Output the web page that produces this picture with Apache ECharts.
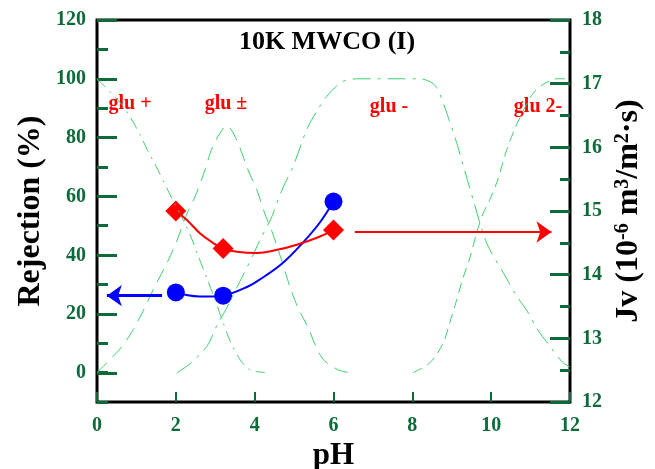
<!DOCTYPE html>
<html>
<head>
<meta charset="utf-8">
<script src="https://cdn.jsdelivr.net/npm/echarts@6/dist/echarts.min.js"></script>
<style>
  html, body { margin: 0; padding: 0; background: #fff; }
  #chart { width: 655px; height: 469px; }
</style>
</head>
<body>
<div id="chart"></div>
<script>
// measured points
const phMeasured = [2, 3.2, 6]
const rejection = [27.3, 26.2, 58.2]
const jv = [15.0, 14.41, 14.70]

// fitted curves
const rejFitPH = [2, 2.3, 2.6, 2.9, 3.2, 3.83, 4.2, 4.72, 5.22, 5.65, 6]
const rejFit = [27.3, 26.3, 25.9, 25.9, 26.2, 29.3, 32.3, 37.4, 44.2, 51, 58.2]
const jvFitPH = [2, 2.28, 2.61, 2.94, 3.2, 3.55, 4.06, 4.57, 5.07, 5.58, 6]
const jvFit = [15.0, 14.86, 14.65, 14.5, 14.41, 14.36, 14.34, 14.39, 14.47, 14.58, 14.70]

// glutamic acid species fractions (%) vs pH
const gluPlus = [[0, 100], [0.58, 92], [0.84, 87], [1.09, 81], [1.27, 76], [1.47, 71], [1.8, 62], [2.03, 56], [2.18, 52], [2.36, 47], [2.56, 40], [2.82, 31], [2.99, 25], [3.2, 17], [3.37, 11], [3.63, 4.4], [3.88, 1], [4.26, 0]]
const gluZw = [[0, 0], [0.58, 8], [0.89, 14], [1.17, 21], [1.42, 28], [1.8, 38], [2.03, 45], [2.28, 54], [2.49, 60], [2.74, 69], [2.94, 77], [3.3, 84], [3.55, 79], [3.83, 69], [4.06, 62], [4.26, 54], [4.44, 48], [4.69, 38], [4.9, 29], [5.1, 22], [5.33, 16], [5.71, 5], [6.11, 1], [6.4, 0]]
const gluMinus = [[2.03, 0], [2.36, 3], [2.79, 9], [3.04, 16], [3.25, 21], [3.7, 33], [3.96, 40], [4.13, 45], [4.4, 52], [4.72, 63], [4.97, 70], [5.33, 83], [5.58, 89], [5.83, 94], [6.22, 99], [6.67, 100], [7.69, 100], [8.19, 100], [8.45, 99], [8.62, 97], [8.83, 90], [9.13, 78], [9.28, 71], [9.54, 59], [9.89, 44], [10.35, 33], [10.65, 26], [10.91, 21], [11.16, 15], [11.49, 9], [11.82, 3.4], [12, 2]]
const glu2Minus = [[8.02, 0], [8.45, 3.4], [8.78, 10], [8.95, 17], [9.13, 25], [9.28, 32], [9.46, 39], [9.64, 48], [9.79, 54], [9.97, 59], [10.15, 65], [10.4, 76], [10.6, 83], [10.81, 89], [11.06, 95], [11.31, 98], [11.67, 100], [12, 100]]

// arrows: [from, to]
const blueArrow = [[1.65, 26.2], [0.25, 26.2]]
const redArrow = [[6.54, 14.67], [11.53, 14.67]]

const GREEN = '#0d6b3a'
const SERIF = 'Liberation Serif'
const lblStyle = { color: GREEN, fontFamily: SERIF, fontWeight: 'bold', fontSize: 20 }
const nameStyle = { color: '#000', fontFamily: SERIF, fontWeight: 'bold', fontSize: 32 }

const speciesLine = (data, dash) => ({
    type: 'line',
    xAxisIndex: 0,
    yAxisIndex: 0,
    data: data,
    showSymbol: false,
    smooth: 0.3,
    silent: true,
    lineStyle: { color: '#3fcf6e', width: 1, type: dash }
})

const arrowSeries = (pts, color, yIdx, w) => ({
    type: 'line',
    xAxisIndex: 0,
    yAxisIndex: yIdx,
    data: [],
    markLine: {
        silent: true,
        symbol: ['none', 'arrow'],
        symbolSize: [16, 15],
        label: { show: false },
        lineStyle: { color: color, width: w, type: 'solid' },
        data: [[{ coord: pts[0] }, { coord: pts[1] }]]
    }
})

const chart = echarts.init(document.getElementById('chart'))
chart.setOption({
    animation: false,
    backgroundColor: '#fff',
    grid: [
        { left: 97, right: 85, top: 20, bottom: 67, outerBoundsMode: 'none', containLabel: false, show: true, borderColor: '#000', borderWidth: 3, backgroundColor: 'transparent' },
        { left: 97, right: 85, top: 20, bottom: 96, outerBoundsMode: 'none', containLabel: false }
    ],
    xAxis: [
        {
            gridIndex: 0, type: 'value', min: 0, max: 12, interval: 2,
            axisLine: { show: false, onZero: false },
            axisTick: { inside: true, length: 10, lineStyle: { color: GREEN, width: 2 } },
            axisLabel: Object.assign({ margin: 14 }, lblStyle),
            splitLine: { show: false },
            name: 'pH', nameLocation: 'middle', nameGap: 34, nameTextStyle: Object.assign({}, nameStyle, { fontSize: 31 })
        },
        { gridIndex: 1, type: 'value', min: 0, max: 12, show: false, axisLine: { onZero: false } }
    ],
    yAxis: [
        {
            gridIndex: 0, type: 'value', min: -10, max: 120, interval: 10,
            axisLine: { show: false, onZero: false },
            axisTick: { inside: true, length: 11, lineStyle: { color: GREEN, width: 3 } },
            axisLabel: { show: false },
            splitLine: { show: false },
            name: 'Rejection (%)', nameLocation: 'middle', nameRotate: 90, nameGap: 50,
            nameTextStyle: nameStyle
        },
        {
            gridIndex: 0, type: 'value', position: 'right', min: 12, max: 18, interval: 1,
            axisLine: { show: false, onZero: false },
            axisTick: { inside: true, length: 20, lineStyle: { color: GREEN, width: 3 } },
            minorTick: { show: true, splitNumber: 2, length: 10, lineStyle: { color: GREEN, width: 3 } },
            axisLabel: Object.assign({ margin: 12 }, lblStyle),
            splitLine: { show: false },
            name: 'Jv (10{sup|-6} m{sup|3}/m{sup|2}·s)', nameLocation: 'middle', nameRotate: 90, nameGap: 41,
            nameTextStyle: Object.assign({
                rich: { sup: { fontFamily: SERIF, fontWeight: 'bold', fontSize: 20, color: '#000', verticalAlign: 'top', padding: [0, 0, 12, 0] } }
            }, nameStyle)
        },
        {
            gridIndex: 1, type: 'value', min: 0, max: 120, interval: 20,
            axisLine: { show: false, onZero: false },
            axisTick: { inside: true, length: 20, lineStyle: { color: GREEN, width: 3 } },
            axisLabel: Object.assign({ margin: 11 }, lblStyle),
            splitLine: { show: false }
        }
    ],
    series: [
        speciesLine(gluPlus, [12, 6, 2, 6]),
        speciesLine(gluZw, [14, 8]),
        speciesLine(gluMinus, [18, 7, 3, 7]),
        speciesLine(glu2Minus, [10, 6]),
        {
            type: 'line', xAxisIndex: 0, yAxisIndex: 0,
            data: rejFitPH.map((p, i) => [p, rejFit[i]]),
            showSymbol: false, smooth: 0.4,
            lineStyle: { color: '#0000ff', width: 2 }
        },
        {
            type: 'line', xAxisIndex: 0, yAxisIndex: 1,
            data: jvFitPH.map((p, i) => [p, jvFit[i]]),
            showSymbol: false, smooth: 0.4,
            lineStyle: { color: '#ff0000', width: 2 }
        },
        arrowSeries(blueArrow, '#0000ff', 0, 3),
        arrowSeries(redArrow, '#ff0000', 1, 2),
        {
            type: 'scatter', xAxisIndex: 0, yAxisIndex: 0,
            data: phMeasured.map((p, i) => [p, rejection[i]]),
            symbol: 'circle', symbolSize: 18,
            itemStyle: { color: '#0000ff', opacity: 1 }
        },
        {
            type: 'scatter', xAxisIndex: 0, yAxisIndex: 1,
            data: phMeasured.map((p, i) => [p, jv[i]]),
            symbol: 'diamond', symbolSize: 21,
            itemStyle: { color: '#ff0000', opacity: 1 }
        }
    ],
    graphic: [
        { type: 'text', x: 327, y: 42, style: { text: '10K MWCO (I)', font: 'bold 26px "Liberation Serif"', fill: '#000', align: 'center', verticalAlign: 'middle' } },
        { type: 'text', x: 130, y: 104, style: { text: 'glu +', font: 'bold 20px "Liberation Serif"', fill: '#ff0000', align: 'center', verticalAlign: 'middle' } },
        { type: 'text', x: 226, y: 104, style: { text: 'glu ±', font: 'bold 20px "Liberation Serif"', fill: '#ff0000', align: 'center', verticalAlign: 'middle' } },
        { type: 'text', x: 389, y: 107, style: { text: 'glu -', font: 'bold 20px "Liberation Serif"', fill: '#ff0000', align: 'center', verticalAlign: 'middle' } },
        { type: 'text', x: 538, y: 107, style: { text: 'glu 2-', font: 'bold 20px "Liberation Serif"', fill: '#ff0000', align: 'center', verticalAlign: 'middle' } }
    ]
})
</script>
</body>
</html>
